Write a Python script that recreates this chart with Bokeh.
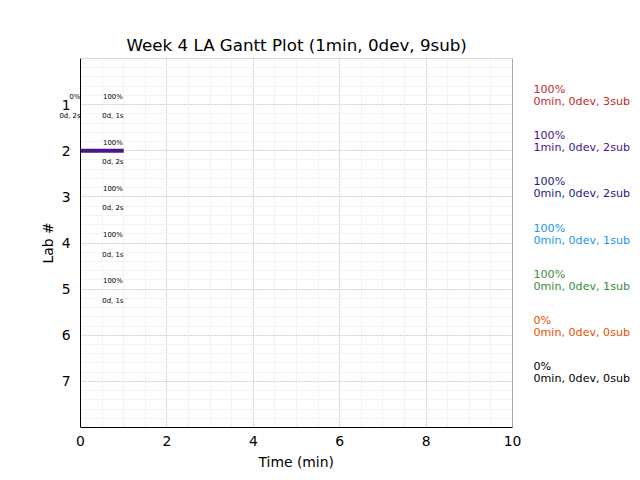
from bokeh.plotting import figure
from bokeh.models import (Range1d, Label, SingleIntervalTicker, FixedTicker, Title,
                          BoxAnnotation)
from bokeh.embed import file_html
from bokeh.resources import INLINE

# ---- data ----
labs = [1, 2, 3, 4, 5, 6, 7]
lab_pct = ["100%", "100%", "100%", "100%", "100%", "0%", "0%"]
lab_desc = ["0min, 0dev, 3sub", "1min, 0dev, 2sub", "0min, 0dev, 2sub",
            "0min, 0dev, 1sub", "0min, 0dev, 1sub", "0min, 0dev, 0sub",
            "0min, 0dev, 0sub"]
lab_colors = ["#c62828", "#4a148c", "#1a237e", "#2196f3", "#388e3c", "#e65100", "#000000"]

bar_lab = [2]
bar_start = [0]
bar_end = [1]

ann_lab = [1, 1, 2, 3, 4, 5]
ann_x = [0, 0.75, 0.75, 0.75, 0.75, 0.75]
ann_align = ["right", "center", "center", "center", "center", "center"]
ann_pct = ["0%", "100%", "100%", "100%", "100%", "100%"]
ann_time = ["0d, 2s", "0d, 1s", "0d, 2s", "0d, 2s", "0d, 1s", "0d, 1s"]

x_min, x_max = 0, 10
y_min, y_max = 0, 8
x_ticks_major = 2
y_ticks = [1, 2, 3, 4, 5, 6, 7]

FONT = "DejaVu Sans"
FRAME_W = 432     # pixel width of the axes box
LEFT_W = 25       # room left of the axes box (inside the drawing area)
RIGHT_W = 128     # room on the right for the lab labels
px = (x_max - x_min) / FRAME_W
x_view = (x_min - LEFT_W * px, x_max + RIGHT_W * px)

p = figure(width=640, height=480, output_backend="svg", toolbar_location=None,
           x_range=Range1d(*x_view), y_range=Range1d(y_max, y_min),
           min_border_left=80 - LEFT_W, min_border_right=0, min_border_top=58,
           min_border_bottom=53)
p.title = Title(text="Week 4 LA Gantt Plot (1min, 0dev, 9sub)", align="left",
                offset=LEFT_W + FRAME_W / 2 - 170, text_font=FONT,
                text_font_size="16.7px", text_font_style="normal",
                text_color="black", standoff=8)

p.xaxis.ticker = SingleIntervalTicker(interval=x_ticks_major, num_minor_ticks=4)
p.yaxis.ticker = FixedTicker(ticks=y_ticks, minor_ticks=[i * 0.2 for i in range(41)])
p.xaxis.bounds = (x_min, x_max)
p.yaxis.fixed_location = x_min

for ax in (p.xaxis[0], p.yaxis[0]):
    ax.major_label_text_font = FONT
    ax.major_label_text_font_size = "13.9px"
    ax.major_label_text_color = "black"
    ax.major_tick_out = 0
    ax.major_tick_in = 0
    ax.minor_tick_out = 0
    ax.minor_tick_in = 0
    ax.axis_line_color = "black"
p.xaxis.major_label_standoff = 8
p.yaxis.major_label_standoff = 10

p.add_layout(Title(text="Time (min)", align="left", offset=LEFT_W + FRAME_W / 2 - 38,
                   text_font=FONT, text_font_size="13.9px", text_font_style="normal",
                   text_color="black", standoff=6), "below")
p.add_layout(Title(text="Lab #", align="center",
                   text_font=FONT, text_font_size="13.9px", text_font_style="normal",
                   text_color="black", standoff=0), "left")

p.outline_line_color = None

for g in (p.xgrid[0], p.ygrid[0]):
    g.grid_line_color = "#b8b8b8"
    g.grid_line_dash = "1 2"
    g.grid_line_width = 1
    g.minor_grid_line_color = "#f3f3f3"
    g.minor_grid_line_width = 1

p.background_fill_color = "white"
p.border_fill_color = "white"

# blank the areas left and right of the axes box (over the grid)
p.add_layout(BoxAnnotation(right=x_min, fill_color="white", fill_alpha=1,
                           line_color=None, level="underlay"))
p.add_layout(BoxAnnotation(left=x_max, fill_color="white", fill_alpha=1,
                           line_color=None, level="underlay"))

# bars
p.segment(x0=bar_start, x1=bar_end, y0=bar_lab, y1=bar_lab,
          line_color=[lab_colors[l - 1] for l in bar_lab], line_width=4)

# axes box
p.add_layout(BoxAnnotation(left=x_min, right=x_max, top=y_min, bottom=y_max,
                           fill_alpha=0, line_color="black", line_width=1))

# small annotations
for lab, x, al, pct, t in zip(ann_lab, ann_x, ann_align, ann_pct, ann_time):
    p.add_layout(Label(x=x, y=lab, text=pct, text_align=al, text_baseline="middle",
                       y_offset=8, text_font=FONT, text_font_size="6.9px",
                       text_color="black"))
    p.add_layout(Label(x=x, y=lab, text=t, text_align=al, text_baseline="middle",
                       y_offset=-11.5, text_font=FONT, text_font_size="6.9px",
                       text_color="black"))

# right-side labels
for lab, pct, desc, c in zip(labs, lab_pct, lab_desc, lab_colors):
    p.add_layout(Label(x=x_max, y=lab, x_offset=21, y_offset=15, text=pct,
                       text_align="left", text_baseline="middle",
                       text_font=FONT, text_font_size="11.1px", text_color=c))
    p.add_layout(Label(x=x_max, y=lab, x_offset=21, y_offset=3, text=desc,
                       text_align="left", text_baseline="middle",
                       text_font=FONT, text_font_size="11.1px", text_color=c))

open("out.html", "w").write(file_html(p, INLINE))
